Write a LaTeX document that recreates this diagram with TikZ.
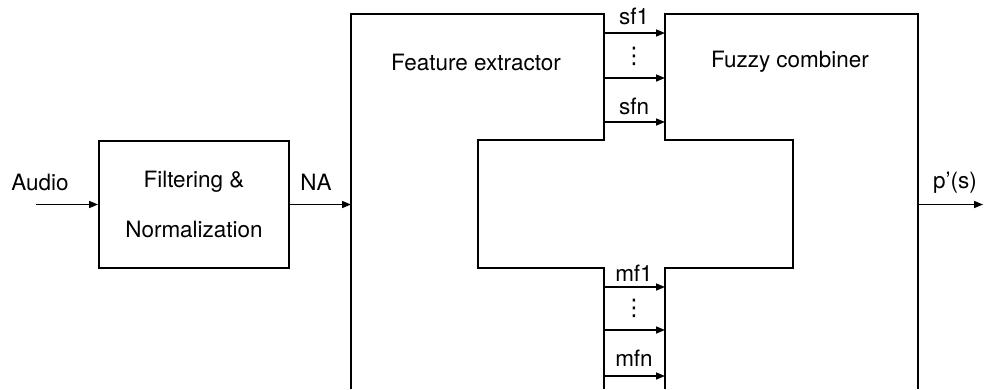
\documentclass[tikz,border=0pt]{standalone}
\usepackage{fontspec}
\setmainfont{TeX Gyre Heros}
\newfontfamily\symfont{DejaVu Sans}
\usetikzlibrary{arrows.meta,positioning}
\tikzset{
  outl/.style ={line width=1.1pt,line join=miter},
  blk/.style  ={draw,line width=1.1pt,minimum width=3.8cm,minimum height=2.54cm,inner sep=0pt,align=center},
  lbl/.style  ={font=\fontsize{12.8}{28}\selectfont,inner sep=0pt},
  dots/.style ={font=\symfont\fontsize{13}{14}\selectfont,inner sep=0pt},
  sig/.style  ={-{Triangle[length=1.8mm,width=1.4mm]},line width=0.9pt},
}
\begin{document}
\begin{tikzpicture}[x=0.02cm,y=-0.02cm]
  \useasboundingbox (0,0) rectangle (1001,389);
  % input stage
  \node[lbl] (audio) at (40,182) {Audio};
  \coordinate (ain) at (36,204.5);
  \node[blk,lbl,draw] (filt) at (194,204.5) {Filtering \&\\Normalization};
  \node[lbl] (na) at (316,182) {NA};
  \coordinate (fein) at (351,204.5);
  \draw[sig] (ain) -- (filt.west);
  \draw[sig] (filt.east) -- (fein);
  % feature extractor outline
  \draw[outl] (351,389) -- (351,14) -- (604,14) -- (604,140) -- (478,140)
    -- (478,268) -- (604,268) -- (604,389);
  \node[lbl] (fext) at (476,62) {Feature extractor};
  % fuzzy combiner outline
  \draw[outl] (665,389) -- (665,268) -- (793,268) -- (793,140) -- (665,140)
    -- (665,14) -- (918,14) -- (918,389);
  \node[lbl] (fcomb) at (790,62) {Fuzzy combiner};
  % feature channels
  \foreach \y/\n in {33/s1,78/s2,122/s3,287/m1,330/m2,376/m3}{
    \coordinate (\n a) at (604,\y);
    \coordinate (\n b) at (665,\y);
    \draw[sig] (\n a) -- (\n b);
  }
  \node[lbl] (sf1) at (634,16) {sf1};
  \node[dots] (sdots) at (634,56) {⋮};
  \node[lbl] (sfn) at (634,106) {sfn};
  \node[lbl] (mf1) at (634,273) {mf1};
  \node[dots] (mdots) at (634,308) {⋮};
  \node[lbl] (mfn) at (634,358) {mfn};
  % output
  \coordinate (fcout) at (918,204.5);
  \coordinate (pout) at (983,204.5);
  \draw[sig] (fcout) -- (pout);
  \node[lbl] (ps) at (955,183) {p'(s)};
\end{tikzpicture}
\end{document}
